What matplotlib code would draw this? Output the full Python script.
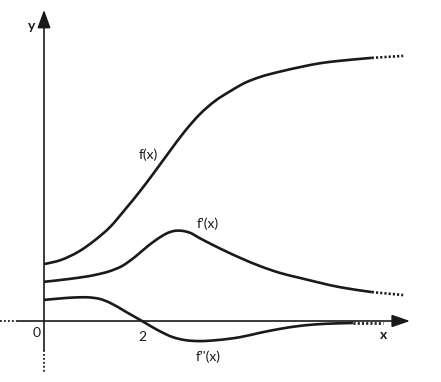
import matplotlib
matplotlib.use("Agg")
import matplotlib.pyplot as plt
import numpy as np
from matplotlib.path import Path
from matplotlib.patches import PathPatch

# Data (illustrative graph units; x=2 is the inflection point of f)
f_x = [0, 0.33, 0.73, 1.04, 1.35, 1.65, 1.96, 2.27, 2.57, 2.88, 3.18, 3.49, 3.80, 4.10, 4.41, 4.82, 5.22, 5.63, 6.04, 6.69]
f_y = [1.16, 1.24, 1.43, 1.65, 1.92, 2.27, 2.65, 3.06, 3.47, 3.88, 4.22, 4.49, 4.69, 4.86, 4.98, 5.09, 5.18, 5.26, 5.31, 5.37]
f_tail_x = [6.69, 7.33]
f_tail_y = [5.37, 5.41]

d1_x = [0, 0.53, 1.04, 1.35, 1.59, 1.86, 2.12, 2.37, 2.53, 2.67, 2.82, 2.98, 3.18, 3.45, 4.00, 4.41, 4.82, 5.22, 6.04, 6.69]
d1_y = [0.80, 0.86, 0.94, 1.02, 1.12, 1.31, 1.53, 1.71, 1.80, 1.84, 1.84, 1.80, 1.69, 1.55, 1.29, 1.12, 0.98, 0.88, 0.69, 0.59]
d1_tail_x = [6.69, 7.33]
d1_tail_y = [0.59, 0.53]

d2_x = [0, 0.33, 0.63, 0.94, 1.14, 1.35, 1.65, 2.00, 2.31, 2.63, 2.88, 3.18, 3.53, 4.00, 4.41, 4.82, 5.22, 5.53, 5.94, 6.31]
d2_y = [0.43, 0.46, 0.48, 0.48, 0.45, 0.37, 0.20, 0.00, -0.18, -0.33, -0.39, -0.41, -0.39, -0.33, -0.24, -0.16, -0.10, -0.07, -0.05, -0.04]
d2_tail_x = [6.31, 6.92]
d2_tail_y = [-0.04, -0.04]

tick_vals = [0, 2]
tick_labels = ["0", "2"]
curve_labels = ["f(x)", "f'(x)", "f''(x)"]

plt.rcParams['font.family'] = ['Lato', 'DejaVu Sans']

fig = plt.figure(figsize=(4.41, 3.82), dpi=100)
ax = fig.add_axes([0, 0, 1, 1])
ax.set_xlim(-44/49, 397/49)
ax.set_ylim(-61/49, 321/49)
ax.axis('off')

col = '#1a1a1a'
lw_curve = 1.9
lw_axis = 1.2


def smooth_path(xs, ys):
    """Cubic Hermite (Bezier) path through the points, tangents from weighted 3-point slopes."""
    x = np.asarray(xs, float)
    y = np.asarray(ys, float)
    n = len(x)
    h = np.diff(x)
    s = np.diff(y) / h
    m = np.empty(n)
    m[0] = s[0]
    m[-1] = s[-1]
    for i in range(1, n - 1):
        m[i] = (s[i - 1] * h[i] + s[i] * h[i - 1]) / (h[i - 1] + h[i])
    verts = [(x[0], y[0])]
    codes = [Path.MOVETO]
    for i in range(n - 1):
        d = h[i] / 3.0
        verts += [(x[i] + d, y[i] + m[i] * d),
                  (x[i + 1] - d, y[i + 1] - m[i + 1] * d),
                  (x[i + 1], y[i + 1])]
        codes += [Path.CURVE4] * 3
    return Path(verts, codes)


# axes
ax.annotate('', xy=(7.47, 0), xytext=(-0.53, 0),
            arrowprops=dict(arrowstyle='-|>,head_length=1.1,head_width=0.38',
                            color=col, lw=lw_axis, shrinkA=0, shrinkB=0))
ax.plot([-0.90, -0.53], [0, 0], color=col, lw=1.3, linestyle=(0, (1, 1.2)), dash_capstyle='butt')
ax.annotate('', xy=(0, 6.35), xytext=(0, -0.59),
            arrowprops=dict(arrowstyle='-|>,head_length=1.1,head_width=0.4',
                            color=col, lw=lw_axis, shrinkA=0, shrinkB=0))
ax.plot([0, 0], [-0.59, -1.06], color=col, lw=1.3, linestyle=(0, (1, 1.2)), dash_capstyle='butt')

# curves
for xs, ys, tx, ty in [(f_x, f_y, f_tail_x, f_tail_y),
                       (d1_x, d1_y, d1_tail_x, d1_tail_y),
                       (d2_x, d2_y, d2_tail_x, d2_tail_y)]:
    ax.add_patch(PathPatch(smooth_path(xs, ys), facecolor='none', edgecolor=col,
                           lw=lw_curve, capstyle='butt', joinstyle='round'))
    ax.plot(tx, ty, color=col, lw=lw_curve, linestyle=(0, (0.8, 0.8)), dash_capstyle='butt')

# labels
fs = 10
ax.text(-0.26, 6.02, 'y', fontsize=fs, fontweight='bold', ha='center', va='center', color=col)
ax.text(6.94, -0.29, 'x', fontsize=fs, fontweight='bold', ha='center', va='center', color=col)
ax.text(-0.16, -0.25, tick_labels[0], fontsize=fs, ha='center', va='center', color=col)
ax.text(tick_vals[1], -0.33, tick_labels[1], fontsize=fs, ha='center', va='center', color=col)
ax.text(2.12, 3.39, curve_labels[0], fontsize=fs, ha='center', va='center', color=col)
ax.text(3.35, 1.98, curve_labels[1], fontsize=fs, ha='center', va='center', color=col)
ax.text(3.35, -0.73, curve_labels[2], fontsize=fs, ha='center', va='center', color=col)

fig.savefig('out.png', dpi=100)
